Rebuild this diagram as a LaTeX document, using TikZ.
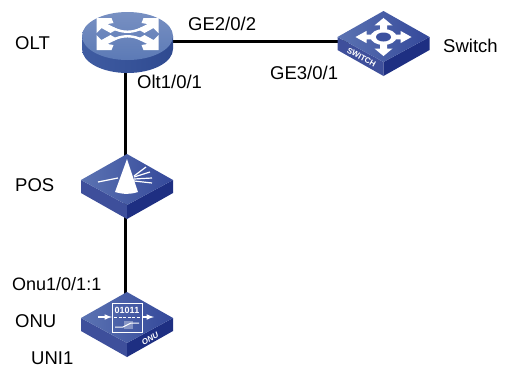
\documentclass[tikz,border=0pt]{standalone}
\usepackage{fontspec}
\setmainfont{Liberation Sans}
\definecolor{faceL}{HTML}{5B73B2}
\definecolor{faceR}{HTML}{34489A}
\definecolor{sideL}{HTML}{3E4F9B}
\definecolor{sideR}{HTML}{1E2F82}
\definecolor{domeT}{HTML}{7890C2}
\definecolor{domeB}{HTML}{5C7AB6}
\definecolor{rimL}{HTML}{3F5CA2}
\definecolor{rimR}{HTML}{2F4A90}
\tikzset{
  hub/.style={inner sep=0pt,minimum size=0pt},
  lbl/.style={inner sep=0pt,font=\fontsize{18.5}{20}\selectfont},
  link/.style={line width=3pt,black},
  glyph/.style={fill=white,draw=none},
  glyphline/.style={draw=white,line width=1.2pt},
  plate/.pic={
    \fill[sideL] (-46,0) -- (0,25) -- (0,39) -- (-46,13) -- cycle;
    \fill[sideR] (46,0) -- (0,25) -- (0,39) -- (46,13) -- cycle;
    \shade[left color=faceL,right color=faceR] (-46,0) -- (0,-26) -- (46,0) -- (0,25) -- cycle;
  },
  router/.pic={
    \shade[left color=rimL,right color=rimR] (-45.5,0) -- (-45.5,13) arc[start angle=180,end angle=0,x radius=45.5,y radius=24] -- (45.5,0) -- cycle;
    \shade[top color=domeT,bottom color=domeB] (0,0) ellipse[x radius=45.5,y radius=24];
    \begin{scope}[yshift=2pt]
    \foreach \sx/\sy in {-1/-1,1/-1,-1/1,1/1}{
      \fill[glyph] (\sx*31,\sy*16) -- (\sx*31,\sy*1) -- (\sx*26,\sy*6) -- (\sx*17,\sy*1) -- (\sx*10,\sy*5)
        -- (\sx*20,\sy*10) -- (\sx*14,\sy*11) -- (\sx*16,\sy*16) -- cycle;
    }
    \draw[glyphline,line width=2.4pt] (-15,-6) .. controls (-5,-1) and (5,-1) .. (15,-6);
    \draw[glyphline,line width=2.4pt] (-15,6) .. controls (-5,1) and (5,1) .. (15,6);
    \end{scope}
  },
  switchbox/.pic={
    \pic {plate};
    \begin{scope}[yscale=0.68]
      \foreach \a in {0,90,180,270}{
        \fill[glyph,rotate=\a] (10,-3.5) -- (17,-3.5) -- (17,-9) -- (28,0) -- (17,9) -- (17,3.5) -- (10,3.5) -- cycle;
      }
    \end{scope}
    \fill[glyph] (0,0) ellipse[x radius=13,y radius=8];
    \fill[faceR!80!faceL] (0,0) ellipse[x radius=7.5,y radius=4.5];
    \node[rotate=-29,text=white,inner sep=0pt,font=\fontsize{8}{9}\selectfont\bfseries] at (-22,20.5) {SWITCH};
  },
  splitter/.pic={
    \pic {plate};
    \fill[glyph] (0,-21) -- (-12,12) .. controls (-3,14.5) and (3,14.5) .. (11,12) -- cycle;
    \draw[glyphline] (-29,2) -- (-9,-2);
    \draw[glyphline] (7,-4) -- (19,-13);
    \draw[glyphline] (7,-3) -- (23,-8);
    \draw[glyphline] (7,-1) -- (25,-2);
    \draw[glyphline] (7,1) -- (25,3);
  },
  onubox/.pic={
    \pic {plate};
    \draw[white,line width=1pt] (-15,-15) rectangle (15,14);
    \node[text=white,inner sep=0pt,font=\fontsize{9}{10}\selectfont\bfseries] at (0,-8) {01011};
    \draw[white,line width=1pt,dash pattern=on 3pt off 1.5pt] (-13,-1) -- (13,-1);
    \fill[white,opacity=.35] (-3,3) rectangle (6,11);
    \draw[white,line width=1pt] (-12,9) -- (-4,9) -- (4,5) -- (12,5);
    \draw[white,line width=1.5pt,-latex] (-29,-1) -- (-15,-1);
    \draw[white,line width=1.5pt,-latex] (15,-1) -- (27,-1);
    \node[rotate=29,text=white,inner sep=0pt,font=\fontsize{8}{9}\selectfont\bfseries\itshape] at (23,20.5) {ONU};
  }
}
\begin{document}
\begin{tikzpicture}[x=1pt,y=-1pt]
      \useasboundingbox (0,0) rectangle (509,368);
      \path
        (125.5,41) node[hub] (olt){}
        (383,41) node[hub] (switch){}
        (125.5,180) node[hub] (pos){}
        (125.5,318) node[hub] (onu){};
      \begin{scope}[link]
        \draw (olt) to (switch);
        \draw (olt) to (pos);
        \draw (pos) to (onu);
      \end{scope}
      \pic at (127.5,36) {router};
      \pic at (383.5,37) {switchbox};
      \pic at (127,180) {splitter};
      \pic at (127,318) {onubox};
      \node[lbl,anchor=west] (oltname) at (15,43) {OLT};
      \node[lbl,anchor=west] (posname) at (15,185) {POS};
      \node[lbl,anchor=west] (onuname) at (15,321) {ONU};
      \node[lbl,anchor=west] (switchname) at (443,46) {Switch};
      \node[lbl,anchor=west] (ge22) at (188,24) {GE2/0/2};
      \node[lbl,anchor=west] (ge31) at (270,73) {GE3/0/1};
      \node[lbl,anchor=west] (olt101) at (137,82) {Olt1/0/1};
      \node[lbl,anchor=west,font=\fontsize{18}{20}\selectfont] (onu1011) at (12,284) {Onu1/0/1:1};
      \node[lbl,anchor=west] (uni1) at (31,358) {UNI1};
    \end{tikzpicture}
\end{document}
